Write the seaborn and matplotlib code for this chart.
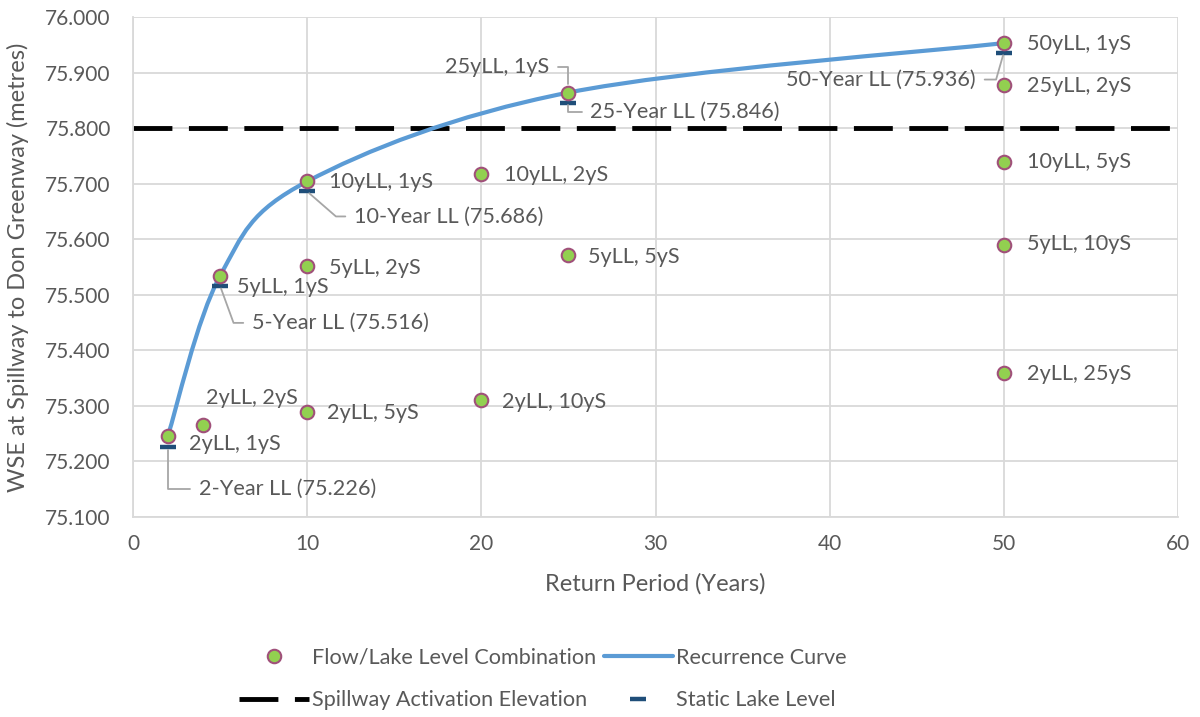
import numpy as np
import pandas as pd
import matplotlib
matplotlib.use("Agg")
import matplotlib.pyplot as plt
import seaborn as sns
from matplotlib.path import Path
from matplotlib.patches import PathPatch
from matplotlib.lines import Line2D

# ---------------------------------------------------------------
# Datos
# ---------------------------------------------------------------
combo_labels = ["2yLL, 1yS", "2yLL, 2yS", "2yLL, 5yS", "2yLL, 10yS", "2yLL, 25yS",
                "5yLL, 1yS", "5yLL, 2yS", "5yLL, 5yS", "5yLL, 10yS",
                "10yLL, 1yS", "10yLL, 2yS", "10yLL, 5yS",
                "25yLL, 1yS", "25yLL, 2yS", "50yLL, 1yS"]
combo_period = [2, 4, 10, 20, 50, 5, 10, 25, 50, 10, 20, 50, 25, 50, 50]
combo_wse = [75.246, 75.266, 75.289, 75.310, 75.360,
             75.534, 75.552, 75.572, 75.589,
             75.704, 75.718, 75.739,
             75.864, 75.877, 75.953]

static_period = [2, 5, 10, 25, 50]
static_wse = [75.226, 75.516, 75.686, 75.846, 75.936]
static_labels = ["2-Year LL (75.226)", "5-Year LL (75.516)", "10-Year LL (75.686)",
                 "25-Year LL (75.846)", "50-Year LL (75.936)"]

curve_period = [2, 5, 10, 25, 50]
curve_wse = [75.246, 75.534, 75.704, 75.864, 75.953]

spillway_elev = 75.800

# ---------------------------------------------------------------
# Estilo
# ---------------------------------------------------------------
TXT = "#595959"
GRID = "#d9d9d9"
LEAD = "#a6a6a6"
PX = 0.72  # px -> puntos (dpi 100)
FS_LAB = 15.6   # etiquetas de datos y leyenda
FS_TICK = 15
FS_AX = 17

sns.set_theme(style="whitegrid")
plt.rcParams["font.family"] = ["Lato", "DejaVu Sans"]

fig = plt.figure(figsize=(12, 7.17), dpi=100)
ax = fig.add_axes([133 / 1200, 1 - 517 / 717, 1045 / 1200, 500 / 717])

# línea de vertedero
ax.axhline(spillway_elev, color="black", lw=3.5, dashes=(8, 3.4), zorder=2)


# curva de recurrencia suavizada (Bezier tipo Excel)
def smooth_path(xs, ys, k=1 / 6):
    pts = np.column_stack([xs, ys]).astype(float)
    verts, codes = [pts[0]], [Path.MOVETO]
    for i in range(len(pts) - 1):
        p0 = pts[i - 1] if i > 0 else pts[i]
        p1, p2 = pts[i], pts[i + 1]
        p3 = pts[i + 2] if i + 2 < len(pts) else pts[i + 1]
        verts += [p1 + (p2 - p0) * k, p2 - (p3 - p1) * k, p2]
        codes += [Path.CURVE4] * 3
    return Path(verts, codes)


ax.add_patch(PathPatch(smooth_path(curve_period, curve_wse), fill=False,
                       edgecolor="#5b9bd5", lw=3, zorder=3))

df_static = pd.DataFrame({"period": static_period, "wse": static_wse})
sns.scatterplot(data=df_static, x="period", y="wse", marker="_", s=130,
                linewidth=3.2, color="#1f4e79", zorder=4, ax=ax, legend=False)

df_combo = pd.DataFrame({"period": combo_period, "wse": combo_wse, "label": combo_labels})
sns.scatterplot(data=df_combo, x="period", y="wse", s=95, color="#92d050",
                edgecolor="#a0507a", linewidth=1.5, zorder=5, ax=ax, legend=False)

# etiquetas de combinaciones (desplazamientos en px)
combo_offsets = {
    "2yLL, 1yS": (21, -8, "left"), "2yLL, 2yS": (3, 27, "left"),
    "2yLL, 5yS": (20, -1, "left"), "2yLL, 10yS": (21, -2, "left"),
    "2yLL, 25yS": (23, -1, "left"), "5yLL, 1yS": (17, -11, "left"),
    "5yLL, 2yS": (22, -2, "left"), "5yLL, 5yS": (20, -2, "left"),
    "5yLL, 10yS": (23, 1, "left"), "10yLL, 1yS": (22, -1, "left"),
    "10yLL, 2yS": (23, -1, "left"), "10yLL, 5yS": (23, 0, "left"),
    "25yLL, 1yS": (-19, 26, "right"), "25yLL, 2yS": (23, -1, "left"),
    "50yLL, 1yS": (23, -1, "left"),
}
for _, r in df_combo.iterrows():
    dx, dy, ha = combo_offsets[r["label"]]
    kw = {}
    if r["label"] == "25yLL, 1yS":
        kw["arrowprops"] = dict(arrowstyle="-", color=LEAD, lw=1.3,
                                connectionstyle="angle,angleA=0,angleB=90,rad=0",
                                relpos=(1, 0.5), shrinkA=4, shrinkB=6)
    ax.annotate(r["label"], (r["period"], r["wse"]), xytext=(dx * PX, dy * PX),
                textcoords="offset points", ha=ha, va="center", color=TXT,
                fontsize=FS_LAB, zorder=6, **kw)

# etiquetas del nivel estático con líneas guía
static_offsets = [(31, -42, "left", 90), (32, -37, "left", 110), (47, -25, "left", 139),
                  (22, -9, "left", 90), (-28, -27, "right", 74)]
for x, y, lab, (dx, dy, ha, angb) in zip(static_period, static_wse, static_labels, static_offsets):
    ax.annotate(lab, (x, y), xytext=(dx * PX, dy * PX), textcoords="offset points",
                ha=ha, va="center", color=TXT, fontsize=FS_LAB, zorder=6,
                arrowprops=dict(arrowstyle="-", color=LEAD, lw=1.3,
                                connectionstyle=f"angle,angleA=0,angleB={angb},rad=0",
                                relpos=(0 if ha == "left" else 1, 0.5),
                                shrinkA=4, shrinkB=2))

# ejes
ax.set_xlim(0, 60)
ax.set_ylim(75.1, 76.0)
ax.set_xticks(np.arange(0, 61, 10))
ax.set_yticks(np.arange(75.1, 76.001, 0.1))
ax.set_yticklabels([f"{v:.3f}" for v in np.arange(75.1, 76.001, 0.1)])
ax.tick_params(colors=TXT, labelsize=FS_TICK, length=0)
ax.tick_params(axis="y", pad=16)
ax.tick_params(axis="x", pad=12)
ax.grid(True, color=GRID, lw=1.3)
for sp in ax.spines.values():
    sp.set_visible(False)
for side in ("left", "bottom"):
    ax.spines[side].set_visible(True)
    ax.spines[side].set_color(GRID)
    ax.spines[side].set_linewidth(1.3)
ax.set_xlabel("Return Period (Years)", color=TXT, fontsize=FS_AX, labelpad=14)
ax.set_ylabel("WSE at Spillway to Don Greenway (metres)", color=TXT, fontsize=FS_AX, labelpad=12)

# leyenda
handles = [
    Line2D([], [], marker="o", ls="none", ms=9.7, mfc="#92d050", mec="#a0507a", mew=1.5),
    Line2D([], [], color="black", lw=3.5, dashes=(8, 3.4)),
    Line2D([], [], color="#5b9bd5", lw=3),
    Line2D([], [], marker="_", ls="none", ms=11, mec="#1f4e79", mew=3.2),
]
labels = ["Flow/Lake Level Combination", "Spillway Activation Elevation",
          "Recurrence Curve", "Static Lake Level"]
fig.legend(handles, labels, ncol=2, loc="center", bbox_to_anchor=(0.4525, 0.053),
           frameon=False, fontsize=FS_LAB, labelcolor=TXT, handlelength=3.2,
           handletextpad=0.15, columnspacing=0.35, labelspacing=1.05)

fig.savefig("out.png", dpi=100)
